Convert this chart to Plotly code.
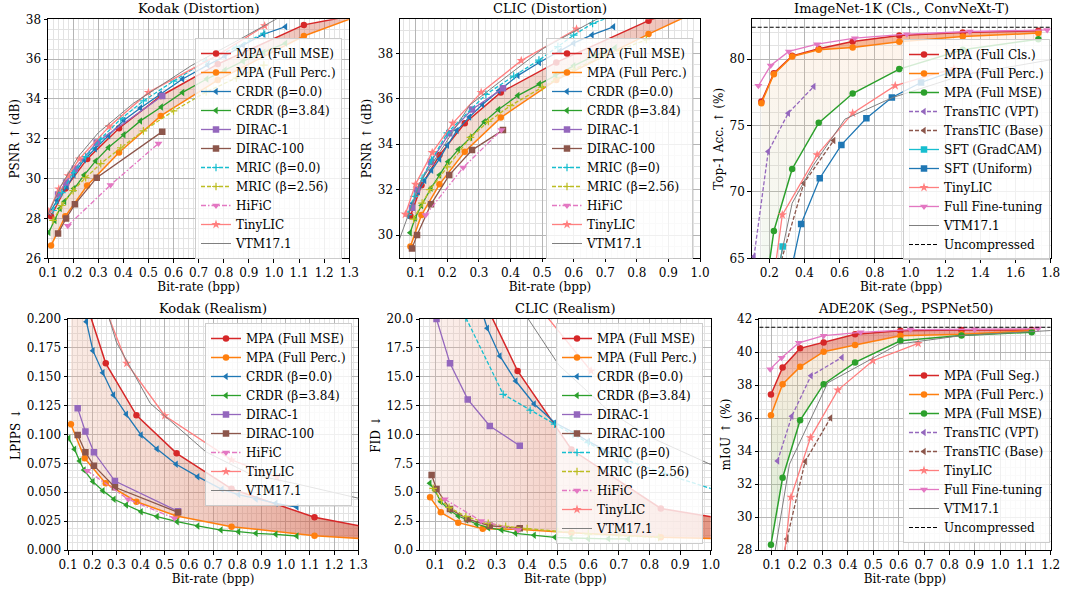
import plotly.graph_objects as go

# ---------------- DATA ----------------
# Kodak
kodak_mpa_bpp = [0.112, 0.169, 0.256, 0.383, 0.549, 0.776, 1.119, 1.45]
kodak_mpa_mse_psnr = [28.11, 29.51, 30.99, 32.53, 34.15, 35.75, 37.72, 38.51]
kodak_mpa_perc_psnr = [26.64, 28.11, 29.65, 31.31, 33.15, 34.95, 37.16, 38.70]
kodak_mpa_mse_lpips = [0.310, 0.218, 0.1616, 0.1166, 0.0837, 0.053, 0.0283, 0.015]
kodak_mpa_perc_lpips = [0.1088, 0.0794, 0.0577, 0.0418, 0.0294, 0.0202, 0.0124, 0.008]

kodak_crdr0_bpp = [0.107, 0.136, 0.176, 0.203, 0.244, 0.288, 0.341, 0.402, 0.468, 0.547, 0.636, 0.736, 0.805, 0.877, 0.959, 1.046]
kodak_crdr0_psnr = [28.3, 28.9, 29.6, 30.2, 30.95, 31.5, 32.15, 32.93, 33.55, 34.25, 35.0, 35.7, 36.15, 36.7, 37.25, 37.63]
kodak_crdr0_lpips = [0.300, 0.245, 0.1977, 0.1726, 0.1535, 0.1342, 0.1175, 0.0996, 0.0874, 0.0742, 0.0635, 0.0525, 0.048, 0.0442, 0.0404, 0.0372]

kodak_crdr384_bpp = [0.103, 0.127, 0.148, 0.166, 0.203, 0.244, 0.29, 0.341, 0.402, 0.468, 0.551, 0.636, 0.732, 0.805, 0.877, 0.959, 1.046]
kodak_crdr384_psnr = [27.3, 27.9, 28.5, 28.85, 29.5, 30.18, 30.89, 31.56, 32.2, 32.9, 33.6, 34.33, 35.0, 35.45, 35.9, 36.35, 36.8]
kodak_crdr384_lpips = [0.0967, 0.0872, 0.0771, 0.0693, 0.0592, 0.0514, 0.0439, 0.039, 0.0332, 0.0289, 0.0245, 0.0208, 0.0173, 0.0159, 0.0144, 0.0136, 0.0121]

kodak_dirac_bpp = [0.14, 0.172, 0.207, 0.294, 0.555]
kodak_dirac1_psnr = [29.2, 29.8, 30.5, 31.81, 34.15]
kodak_dirac100_psnr = [27.25, 28.0, 28.71, 30.05, 32.36]
kodak_dirac1_lpips = [0.1227, 0.1025, 0.0846, 0.0597, 0.0335]
kodak_dirac100_lpips = [0.0996, 0.0846, 0.073, 0.0543, 0.0326]

kodak_mric_bpp = [0.12, 0.155, 0.2, 0.25, 0.31, 0.39, 0.48, 0.6, 0.73, 0.85, 0.96]
kodak_mric0_psnr = [28.4, 29.3, 30.3, 31.1, 32.0, 33.0, 33.9, 34.9, 35.9, 36.6, 37.3]
kodak_mric256_psnr = [27.9, 28.65, 29.4, 30.05, 30.75, 31.55, 32.4, 33.4, 34.35, 35.05, 35.7]

kodak_hific_bpp = [0.179, 0.349, 0.54]
kodak_hific_psnr = [27.64, 29.68, 31.77]
kodak_hific_lpips = [0.0687, 0.0439, 0.0274]

kodak_tiny_bpp = [0.103, 0.143, 0.18, 0.225, 0.343, 0.5, 0.776, 0.963]
kodak_tiny_psnr = [28.34, 29.48, 30.15, 30.99, 32.61, 34.33, 36.2, 37.67]
kodak_tiny_lpips = [0.40, 0.33, 0.28, 0.225, 0.1616, 0.1163, 0.078, 0.063]

kodak_vtm_bpp = [0.1, 0.15, 0.22, 0.3, 0.44, 0.67, 0.85, 1.05, 1.4]
kodak_vtm_psnr = [28.2, 29.6, 31.1, 32.3, 33.78, 35.67, 36.9, 38.3, 40.3]
kodak_vtm_lpips = [0.45, 0.34, 0.235, 0.18, 0.127, 0.085, 0.066, 0.057, 0.040]

# CLIC
clic_mpa_bpp = [0.083, 0.118, 0.175, 0.255, 0.369, 0.545, 0.837, 1.2]
clic_mpa_mse_psnr = [30.84, 32.19, 33.52, 34.92, 36.28, 37.6, 39.44, 41.2]
clic_mpa_perc_psnr = [29.49, 30.88, 32.23, 33.67, 35.17, 36.83, 38.85, 41.2]
clic_mpa_mse_fid = [55, 45, 33, 21.8, 15.5, 8.7, 3.6, 2.0]
clic_mpa_perc_fid = [4.56, 3.26, 2.37, 1.85, 1.79, 1.5, 1.1, 0.85]

clic_crdr0_bpp = [0.075, 0.09, 0.108, 0.128, 0.15, 0.175, 0.2, 0.23, 0.27, 0.311, 0.363, 0.423, 0.491, 0.557, 0.6, 0.658, 0.726]
clic_crdr0_psnr = [30.85, 31.4, 31.9, 32.4, 32.85, 33.35, 33.95, 34.6, 35.2, 35.75, 36.35, 37.02, 37.6, 38.1, 38.45, 38.81, 39.17]
clic_crdr0_fid = [50, 44, 39, 35, 31.5, 28.5, 25.5, 22.5, 19.2, 16.8, 14.63, 12.64, 11.02, 10.1, 9.4, 8.6, 7.8]

clic_crdr384_bpp = [0.082, 0.098, 0.118, 0.148, 0.175, 0.202, 0.235, 0.273, 0.317, 0.362, 0.423, 0.491, 0.543, 0.6, 0.666, 0.731]
clic_crdr384_psnr = [30.1, 30.75, 31.3, 32.06, 32.64, 33.23, 33.77, 34.29, 34.99, 35.53, 36.14, 36.65, 37.05, 37.45, 37.9, 38.25]
clic_crdr384_fid = [5.77, 5.19, 4.18, 3.41, 2.94, 2.6, 2.25, 1.93, 1.73, 1.44, 1.27, 1.1, 1.04, 0.98, 0.97, 0.96]

clic_dirac_bpp = [0.088, 0.104, 0.148, 0.206, 0.278, 0.376]
clic_dirac1_psnr = [31.2, 32.0, 33.23, 34.48, 35.53, 36.46]
clic_dirac100_psnr = [29.41, 30.0, 31.35, 32.64, 33.74, 34.62]
clic_dirac1_fid = [24.0, 20.0, 16.16, 13.04, 10.74, 9.03]
clic_dirac100_fid = [6.49, 5.28, 3.55, 2.68, 2.1, 1.88]

clic_mric0_bpp = [0.075, 0.095, 0.12, 0.15, 0.2, 0.322, 0.41, 0.49, 0.55, 0.6, 0.66, 0.85, 1.05]
clic_mric0_psnr = [30.9, 31.7, 32.5, 33.3, 34.5, 36.19, 37.0, 37.7, 38.3, 38.8, 39.32, 40.3, 41.0]
clic_mric0_fid = [40, 33, 28, 24.5, 20.1, 13.48, 12.1, 10.9, 10.0, 9.3, 8.4, 6.6, 4.9]

clic_mric256_bpp = [0.093, 0.12, 0.145, 0.2, 0.273, 0.33, 0.4, 0.5, 0.6, 0.7, 0.83]
clic_mric256_psnr = [30.7, 31.4, 32.0, 33.0, 34.3, 35.0, 35.7, 36.5, 37.3, 37.9, 38.6]
clic_mric256_fid = [5.34, 4.3, 3.69, 2.9, 2.3, 2.05, 1.85, 1.6, 1.4, 1.25, 1.1]

clic_hific_bpp = [0.131, 0.25, 0.371]
clic_hific_psnr = [30.88, 32.97, 34.62]
clic_hific_fid = [4.39, 2.51, 1.73]

clic_tiny_bpp = [0.067, 0.099, 0.152, 0.217, 0.307, 0.434, 0.609]
clic_tiny_psnr = [30.91, 32.23, 33.63, 34.92, 36.28, 37.68, 39.07]
clic_tiny_fid = [60, 50, 42, 35, 27.5, 21.2, 15.5]

clic_vtm_bpp = [0.04, 0.115, 0.194, 0.271, 0.394, 0.504, 0.668, 0.8, 1.1]
clic_vtm_psnr = [29.5, 32.35, 34.04, 35.72, 37.05, 38.22, 39.47, 40.3, 41.5]
clic_vtm_fid = [60, 45, 33, 26, 20.4, 16.0, 12.0, 9.8, 6.2]

# ImageNet-1K
in_mpa_bpp = [0.155, 0.226, 0.33, 0.481, 0.674, 0.939, 1.3, 1.73]
in_mpa_cls = [76.81, 78.94, 80.25, 80.78, 81.33, 81.78, 82.0, 82.13]
in_mpa_perc = [76.68, 78.87, 80.2, 80.7, 80.88, 81.3, 81.7, 81.96]
in_mpa_mse = [60.4, 67.06, 71.73, 75.2, 77.41, 79.25, 80.7, 81.5]
in_vpt_bpp = [0.113, 0.194, 0.308, 0.453]
in_vpt = [65.13, 73.04, 75.93, 77.94]
in_base_bpp = [0.25, 0.396, 0.566]
in_base = [64.0, 70.65, 73.87]
in_gradcam_bpp = [0.22, 0.276]
in_gradcam = [61.5, 65.88]
in_uniform_bpp = [0.29, 0.381, 0.487, 0.61, 0.752, 0.897, 1.063, 1.226]
in_uniform = [62.0, 67.59, 71.03, 73.54, 75.55, 77.11, 78.24, 79.0]
in_tiny_bpp = [0.2, 0.274, 0.472, 0.674, 0.916, 1.25]
in_tiny = [61.0, 68.27, 72.79, 75.93, 78.0, 79.3]
in_full_bpp = [0.138, 0.208, 0.311, 0.472, 0.686, 0.982, 1.34, 1.78]
in_full = [77.99, 79.52, 80.58, 81.13, 81.58, 81.88, 82.08, 82.2]
in_vtm_bpp = [0.24, 0.33, 0.45, 0.63, 0.9, 1.3, 1.8]
in_vtm = [63.5, 69.15, 72.0, 75.48, 77.1, 78.8, 79.95]
in_uncompressed = 82.4

# ADE20K
ade_mpa_bpp = [0.096, 0.142, 0.211, 0.304, 0.428, 0.607, 0.848, 1.125]
ade_mpa_seg = [37.42, 39.06, 40.22, 40.58, 41.07, 41.29, 41.33, 41.33]
ade_mpa_perc = [36.17, 38.05, 39.1, 40.02, 40.42, 40.99, 41.07, 41.29]
ade_mpa_mse = [28.32, 32.38, 35.86, 38.05, 39.37, 40.68, 41.0, 41.2]
ade_vpt_bpp = [0.122, 0.178, 0.254, 0.376]
ade_vpt = [33.39, 36.1, 38.56, 39.67]
ade_base_bpp = [0.12, 0.159, 0.231, 0.331]
ade_base = [25.5, 28.67, 33.37, 36.0]
ade_tiny_bpp = [0.14, 0.175, 0.252, 0.36, 0.498, 0.677]
ade_tiny = [26.5, 31.2, 34.81, 37.69, 39.47, 40.52]
ade_full_bpp = [0.093, 0.138, 0.206, 0.304, 0.45, 0.647, 0.9, 1.15]
ade_full = [38.96, 39.65, 40.56, 40.99, 41.19, 41.36, 41.38, 41.42]
ade_vtm_bpp = [0.1, 0.169, 0.32, 0.45, 0.6, 0.85, 1.2]
ade_vtm = [26.8, 33.2, 38.13, 39.2, 40.48, 41.0, 41.3]
ade_uncompressed = 41.5

# ---------------- STYLE ----------------
FONT = "DejaVu Serif"
RED, ORANGE, BLUE, GREEN = "#d62728", "#ff7f0e", "#1f77b4", "#2ca02c"
PURPLE, BROWN, PINK, GRAY = "#9467bd", "#8c564b", "#e377c2", "#7f7f7f"
OLIVE, CYAN, SALMON = "#bcbd22", "#17becf", "#ff7f7f"
DASH = "4px,2px"
DASHDOT = "5px,2px,1.5px,2px"
TICK = 12
TITLE = 13

W, H = 1067, 592

panels = [
    dict(px=(48, 349.3), py=(19.3, 258.3), xr=[0.1, 1.3], yr=[26, 38], xt0=0.1, xdt=0.1, yt0=26, ydt=2,
         xm=0.02, ym=0.5, xfmt=".1f", yfmt="", title="Kodak (Distortion)", ytitle="PSNR ↑ (dB)",
         leg=dict(x=342, y=38, xa="right", ya="top")),
    dict(px=(400, 700), py=(19.3, 257.7), xr=[0.05, 1.0], yr=[29, 39.5], xt0=0.1, xdt=0.1, yt0=30, ydt=2,
         xm=0.02, ym=0.5, xfmt=".1f", yfmt="", title="CLIC (Distortion)", ytitle="PSNR ↑ (dB)",
         leg=dict(x=693, y=38, xa="right", ya="top")),
    dict(px=(751.7, 1050.7), py=(19.3, 258.3), xr=[0.1, 1.8], yr=[65, 83], xt0=0.2, xdt=0.2, yt0=65, ydt=5,
         xm=0.05, ym=1.0, xfmt=".1f", yfmt="", title="ImageNet-1K (Cls., ConvNeXt-T)", ytitle="Top-1 Acc. ↑ (%)",
         leg=dict(x=1050, y=39, xa="right", ya="top")),
    dict(px=(68, 358.3), py=(319, 550), xr=[0.1, 1.3], yr=[0, 0.2], xt0=0.1, xdt=0.1, yt0=0, ydt=0.025,
         xm=0.02, ym=0.00625, xfmt=".1f", yfmt=".3f", title="Kodak (Realism)", ytitle="LPIPS ↓",
         leg=dict(x=352, y=323, xa="right", ya="top")),
    dict(px=(420, 710.7), py=(319, 550), xr=[0.05, 1.0], yr=[0, 20], xt0=0.1, xdt=0.1, yt0=0, ydt=2.5,
         xm=0.02, ym=0.625, xfmt=".1f", yfmt=".1f", title="CLIC (Realism)", ytitle="FID ↓",
         leg=dict(x=703, y=323, xa="right", ya="top")),
    dict(px=(759.3, 1050.7), py=(319, 550), xr=[0.05, 1.2], yr=[28, 42], xt0=0.1, xdt=0.1, yt0=28, ydt=2,
         xm=0.02, ym=0.5, xfmt=".1f", yfmt="", title="ADE20K (Seg., PSPNet50)", ytitle="mIoU ↑ (%)",
         leg=dict(x=1050, y=543, xa="right", ya="bottom")),
]

fig = go.Figure()


def ax_ids(i):
    s = "" if i == 0 else str(i + 1)
    return "x" + s, "y" + s, "legend" + s


def add_line(i, name, x, y, color, symbol=None, dash="solid", width=1.3, size=6.5):
    xa, ya, lg = ax_ids(i)
    kw = {}
    if symbol:
        if "thin" in symbol:
            kw["marker"] = dict(symbol=symbol, size=size, color=color, line=dict(width=1.2, color=color))
        else:
            kw["marker"] = dict(symbol=symbol, size=size, color=color, line=dict(width=0))
        mode = "lines+markers"
    else:
        mode = "lines"
    fig.add_trace(go.Scatter(x=x, y=y, name=name, mode=mode, xaxis=xa, yaxis=ya, legend=lg,
                             line=dict(color=color, width=width, dash=dash), **kw))


def add_fill(i, xa_, ya_, xb_, yb_, grad, fallback):
    xa, ya, lg = ax_ids(i)
    fig.add_trace(go.Scatter(x=list(xa_) + list(xb_)[::-1], y=list(ya_) + list(yb_)[::-1],
                             mode="lines", fill="toself", line=dict(width=0, color="rgba(0,0,0,0)"),
                             fillcolor=fallback, fillgradient=grad, hoverinfo="skip",
                             showlegend=False, xaxis=xa, yaxis=ya))


def hgrad(c0, c1, start, stop):
    return dict(type="horizontal", colorscale=[[0, c0], [1, c1]], start=start, stop=stop)


def vgrad(c0, c1, start, stop):
    return dict(type="vertical", colorscale=[[0, c0], [1, c1]], start=start, stop=stop)


# ---- Panel 1: Kodak distortion
p = 0
add_fill(p, kodak_mpa_bpp, kodak_mpa_mse_psnr, kodak_mpa_bpp, kodak_mpa_perc_psnr,
         hgrad("rgba(225,165,135,0.28)", "rgba(215,100,80,0.42)", 0.1, 1.3), "rgba(220,130,100,0.35)")
add_line(p, "MPA (Full MSE)", kodak_mpa_bpp, kodak_mpa_mse_psnr, RED, "circle", width=1.5)
add_line(p, "MPA (Full Perc.)", kodak_mpa_bpp, kodak_mpa_perc_psnr, ORANGE, "circle", width=1.5)
add_line(p, "CRDR (β=0.0)", kodak_crdr0_bpp, kodak_crdr0_psnr, BLUE, "triangle-left")
add_line(p, "CRDR (β=3.84)", kodak_crdr384_bpp, kodak_crdr384_psnr, GREEN, "triangle-left")
add_line(p, "DIRAC-1", kodak_dirac_bpp, kodak_dirac1_psnr, PURPLE, "square")
add_line(p, "DIRAC-100", kodak_dirac_bpp, kodak_dirac100_psnr, BROWN, "square")
add_line(p, "MRIC (β=0.0)", kodak_mric_bpp, kodak_mric0_psnr, CYAN, "cross-thin", dash=DASH, size=5.5)
add_line(p, "MRIC (β=2.56)", kodak_mric_bpp, kodak_mric256_psnr, OLIVE, "cross-thin", dash=DASH, size=5.5)
add_line(p, "HiFiC", kodak_hific_bpp, kodak_hific_psnr, PINK, "triangle-down", dash=DASHDOT, size=7)
add_line(p, "TinyLIC", kodak_tiny_bpp, kodak_tiny_psnr, SALMON, "star", size=7)
add_line(p, "VTM17.1", kodak_vtm_bpp, kodak_vtm_psnr, GRAY, width=1.0)

# ---- Panel 2: CLIC distortion
p = 1
add_fill(p, clic_mpa_bpp, clic_mpa_mse_psnr, clic_mpa_bpp, clic_mpa_perc_psnr,
         hgrad("rgba(225,165,135,0.28)", "rgba(215,100,80,0.42)", 0.05, 1.0), "rgba(220,130,100,0.35)")
add_line(p, "MPA (Full MSE)", clic_mpa_bpp, clic_mpa_mse_psnr, RED, "circle", width=1.5)
add_line(p, "MPA (Full Perc.)", clic_mpa_bpp, clic_mpa_perc_psnr, ORANGE, "circle", width=1.5)
add_line(p, "CRDR (β=0.0)", clic_crdr0_bpp, clic_crdr0_psnr, BLUE, "triangle-left")
add_line(p, "CRDR (β=3.84)", clic_crdr384_bpp, clic_crdr384_psnr, GREEN, "triangle-left")
add_line(p, "DIRAC-1", clic_dirac_bpp, clic_dirac1_psnr, PURPLE, "square")
add_line(p, "DIRAC-100", clic_dirac_bpp, clic_dirac100_psnr, BROWN, "square")
add_line(p, "MRIC (β=0)", clic_mric0_bpp, clic_mric0_psnr, CYAN, "cross-thin", dash=DASH, size=5.5)
add_line(p, "MRIC (β=2.56)", clic_mric256_bpp, clic_mric256_psnr, OLIVE, "cross-thin", dash=DASH, size=5.5)
add_line(p, "HiFiC", clic_hific_bpp, clic_hific_psnr, PINK, "triangle-down", dash=DASHDOT, size=7)
add_line(p, "TinyLIC", clic_tiny_bpp, clic_tiny_psnr, SALMON, "star", size=7)
add_line(p, "VTM17.1", clic_vtm_bpp, clic_vtm_psnr, GRAY, width=1.0)

# ---- Panel 3: ImageNet
p = 2
add_fill(p, in_mpa_bpp, in_mpa_perc, in_mpa_bpp, in_mpa_mse,
         vgrad("rgba(175,210,160,0.14)", "rgba(250,195,150,0.18)", 65, 81), "rgba(200,210,160,0.15)")
add_fill(p, in_mpa_bpp, in_mpa_cls, in_mpa_bpp, in_mpa_perc,
         hgrad("rgba(240,120,50,0.5)", "rgba(235,100,45,0.5)", 0.1, 1.8), "rgba(240,110,40,0.5)")
add_line(p, "MPA (Full Cls.)", in_mpa_bpp, in_mpa_cls, RED, "circle", width=1.5)
add_line(p, "MPA (Full Perc.)", in_mpa_bpp, in_mpa_perc, ORANGE, "circle", width=1.5)
add_line(p, "MPA (Full MSE)", in_mpa_bpp, in_mpa_mse, GREEN, "circle", width=1.5)
add_line(p, "TransTIC (VPT)", in_vpt_bpp, in_vpt, PURPLE, "triangle-left", dash=DASH)
add_line(p, "TransTIC (Base)", in_base_bpp, in_base, BROWN, "triangle-left", dash=DASH)
add_line(p, "SFT (GradCAM)", in_gradcam_bpp, in_gradcam, CYAN, "square")
add_line(p, "SFT (Uniform)", in_uniform_bpp, in_uniform, BLUE, "square")
add_line(p, "TinyLIC", in_tiny_bpp, in_tiny, SALMON, "star", size=7)
add_line(p, "Full Fine-tuning", in_full_bpp, in_full, PINK, "triangle-down", size=7)
add_line(p, "VTM17.1", in_vtm_bpp, in_vtm, GRAY, width=1.0)
add_line(p, "Uncompressed", panels[2]["xr"], [in_uncompressed, in_uncompressed], "black", dash=DASH, width=1.1)

# ---- Panel 4: Kodak realism
p = 3
add_fill(p, kodak_mpa_bpp, kodak_mpa_mse_lpips, kodak_mpa_bpp, kodak_mpa_perc_lpips,
         hgrad("rgba(238,180,155,0.26)", "rgba(205,80,55,0.6)", 0.1, 1.3), "rgba(225,140,110,0.35)")
add_line(p, "MPA (Full MSE)", kodak_mpa_bpp, kodak_mpa_mse_lpips, RED, "circle", width=1.5)
add_line(p, "MPA (Full Perc.)", kodak_mpa_bpp, kodak_mpa_perc_lpips, ORANGE, "circle", width=1.5)
add_line(p, "CRDR (β=0.0)", kodak_crdr0_bpp, kodak_crdr0_lpips, BLUE, "triangle-left")
add_line(p, "CRDR (β=3.84)", kodak_crdr384_bpp, kodak_crdr384_lpips, GREEN, "triangle-left")
add_line(p, "DIRAC-1", kodak_dirac_bpp, kodak_dirac1_lpips, PURPLE, "square")
add_line(p, "DIRAC-100", kodak_dirac_bpp, kodak_dirac100_lpips, BROWN, "square")
add_line(p, "HiFiC", kodak_hific_bpp, kodak_hific_lpips, PINK, "triangle-down", dash=DASHDOT, size=7)
add_line(p, "TinyLIC", kodak_tiny_bpp, kodak_tiny_lpips, SALMON, "star", size=7)
add_line(p, "VTM17.1", kodak_vtm_bpp, kodak_vtm_lpips, GRAY, width=1.0)

# ---- Panel 5: CLIC realism
p = 4
add_fill(p, clic_mpa_bpp, clic_mpa_mse_fid, clic_mpa_bpp, clic_mpa_perc_fid,
         hgrad("rgba(242,195,180,0.22)", "rgba(210,80,50,0.6)", 0.05, 1.0), "rgba(230,150,130,0.3)")
add_line(p, "MPA (Full MSE)", clic_mpa_bpp, clic_mpa_mse_fid, RED, "circle", width=1.5)
add_line(p, "MPA (Full Perc.)", clic_mpa_bpp, clic_mpa_perc_fid, ORANGE, "circle", width=1.5)
add_line(p, "CRDR (β=0.0)", clic_crdr0_bpp, clic_crdr0_fid, BLUE, "triangle-left")
add_line(p, "CRDR (β=3.84)", clic_crdr384_bpp, clic_crdr384_fid, GREEN, "triangle-left")
add_line(p, "DIRAC-1", clic_dirac_bpp, clic_dirac1_fid, PURPLE, "square")
add_line(p, "DIRAC-100", clic_dirac_bpp, clic_dirac100_fid, BROWN, "square")
add_line(p, "MRIC (β=0)", clic_mric0_bpp, clic_mric0_fid, CYAN, "cross-thin", dash=DASH, size=5.5)
add_line(p, "MRIC (β=2.56)", clic_mric256_bpp, clic_mric256_fid, OLIVE, "cross-thin", dash=DASH, size=5.5)
add_line(p, "HiFiC", clic_hific_bpp, clic_hific_fid, PINK, "triangle-down", dash=DASHDOT, size=7)
add_line(p, "TinyLIC", clic_tiny_bpp, clic_tiny_fid, SALMON, "star", size=7)
add_line(p, "VTM17.1", clic_vtm_bpp, clic_vtm_fid, GRAY, width=1.0)

# ---- Panel 6: ADE20K
p = 5
add_fill(p, ade_mpa_bpp, ade_mpa_perc, ade_mpa_bpp, ade_mpa_mse,
         vgrad("rgba(150,200,130,0.30)", "rgba(240,195,150,0.30)", 30, 40.5), "rgba(190,200,140,0.3)")
add_fill(p, ade_mpa_bpp, ade_mpa_seg, ade_mpa_bpp, ade_mpa_perc,
         vgrad("rgba(245,165,110,0.40)", "rgba(215,70,50,0.5)", 36.5, 41), "rgba(230,110,70,0.45)")
add_line(p, "MPA (Full Seg.)", ade_mpa_bpp, ade_mpa_seg, RED, "circle", width=1.5)
add_line(p, "MPA (Full Perc.)", ade_mpa_bpp, ade_mpa_perc, ORANGE, "circle", width=1.5)
add_line(p, "MPA (Full MSE)", ade_mpa_bpp, ade_mpa_mse, GREEN, "circle", width=1.5)
add_line(p, "TransTIC (VPT)", ade_vpt_bpp, ade_vpt, PURPLE, "triangle-left", dash=DASH)
add_line(p, "TransTIC (Base)", ade_base_bpp, ade_base, BROWN, "triangle-left", dash=DASH)
add_line(p, "TinyLIC", ade_tiny_bpp, ade_tiny, SALMON, "star", size=7)
add_line(p, "Full Fine-tuning", ade_full_bpp, ade_full, PINK, "triangle-down", size=7)
add_line(p, "VTM17.1", ade_vtm_bpp, ade_vtm, GRAY, width=1.0)
add_line(p, "Uncompressed", panels[5]["xr"], [ade_uncompressed, ade_uncompressed], "black", dash=DASH, width=1.1)

# ---------------- LAYOUT ----------------
layout = dict(width=W, height=H, margin=dict(l=0, r=0, t=0, b=0, autoexpand=False),
              paper_bgcolor="white", plot_bgcolor="white",
              font=dict(family=FONT, size=TICK, color="black"),
              annotations=[])

for i, pn in enumerate(panels):
    s = "" if i == 0 else str(i + 1)
    xd = [pn["px"][0] / W, pn["px"][1] / W]
    yd = [1 - pn["py"][1] / H, 1 - pn["py"][0] / H]
    common = dict(showline=True, linecolor="black", linewidth=1, mirror=True, ticks="outside",
                  ticklen=3.5, tickcolor="black", showgrid=True, gridcolor="#b5b5b5", gridwidth=0.8,
                  zeroline=False, tickfont=dict(family=FONT, size=TICK), layer="below traces",
                  automargin=False)
    layout["xaxis" + s] = dict(common, domain=xd, range=pn["xr"], tick0=pn["xt0"], dtick=pn["xdt"],
                               tickformat=pn["xfmt"], anchor="y" + s,
                               minor=dict(showgrid=True, gridcolor="#e3e3e3", gridwidth=0.6,
                                          tick0=pn["xt0"], dtick=pn["xm"]),
                               title=dict(text="Bit-rate (bpp)", standoff=1, font=dict(family=FONT, size=TICK)))
    layout["yaxis" + s] = dict(common, domain=yd, range=pn["yr"], tick0=pn["yt0"], dtick=pn["ydt"],
                               tickformat=pn["yfmt"], anchor="x" + s,
                               minor=dict(showgrid=True, gridcolor="#e3e3e3", gridwidth=0.6,
                                          tick0=pn["yt0"], dtick=pn["ym"]),
                               title=dict(text=pn["ytitle"], standoff=3, font=dict(family=FONT, size=TICK)))
    lg = pn["leg"]
    layout["legend" + s] = dict(x=lg["x"] / W, y=1 - lg["y"] / H, xanchor=lg["xa"], yanchor=lg["ya"],
                                bgcolor="rgba(255,255,255,0.8)", bordercolor="#cccccc", borderwidth=1,
                                font=dict(family=FONT, size=TICK), tracegroupgap=0, itemwidth=30)
    layout["annotations"].append(dict(text=pn["title"], x=(xd[0] + xd[1]) / 2, y=yd[1], xref="paper",
                                      yref="paper", xanchor="center", yanchor="bottom", yshift=1,
                                      showarrow=False, font=dict(family=FONT, size=TITLE)))

fig.update_layout(**layout)
fig.write_html("out.html", config={"displayModeBar": False},
               post_script="document.body.style.margin='0';document.body.style.overflow='hidden';")
